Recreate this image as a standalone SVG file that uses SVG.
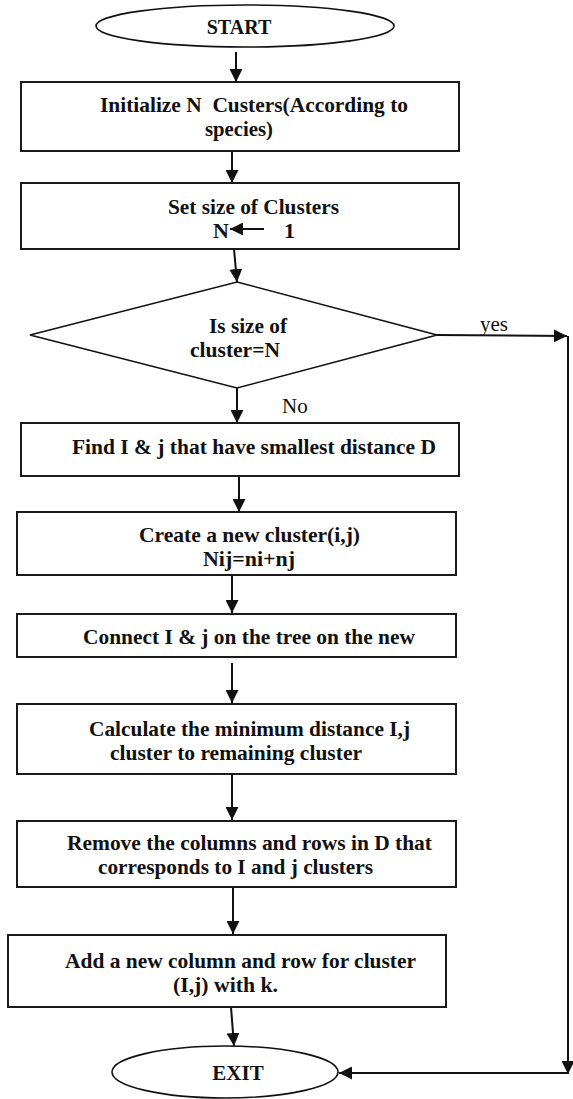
<svg xmlns="http://www.w3.org/2000/svg" width="573" height="1099" viewBox="0 0 573 1099">
<style>
.box{fill:#fff;stroke:#1a1a1a;stroke-width:2}
.shp{fill:#fff;stroke:#111;stroke-width:1.6}
.t{font-family:"Liberation Serif","Times New Roman",serif;font-weight:bold;font-size:22px;fill:#111}
.l{font-family:"Liberation Serif","Times New Roman",serif;font-size:21px;fill:#111}
.c{fill:none;stroke:#111;stroke-width:2}
</style>
<defs>
<marker id="ah" viewBox="0 0 10 10" refX="10" refY="5" markerWidth="13" markerHeight="13" markerUnits="userSpaceOnUse" orient="auto">
<path d="M0,0 L10,5 L0,10 z" fill="#111"/>
</marker>
</defs>
<rect width="573" height="1099" fill="#fff"/>
<g id="connectors">
<line class="c" x1="236" y1="52" x2="236" y2="82" marker-end="url(#ah)"/>
<line class="c" x1="232" y1="151" x2="232" y2="183" marker-end="url(#ah)"/>
<line class="c" x1="234" y1="249" x2="237" y2="282" marker-end="url(#ah)"/>
<line class="c" x1="437" y1="335" x2="567" y2="336" marker-end="url(#ah)"/>
<line class="c" x1="237" y1="388" x2="237" y2="423" marker-end="url(#ah)"/>
<line class="c" x1="239" y1="476" x2="239" y2="512" marker-end="url(#ah)"/>
<line class="c" x1="232" y1="575" x2="232" y2="613" marker-end="url(#ah)"/>
<line class="c" x1="232" y1="663" x2="232" y2="703" marker-end="url(#ah)"/>
<line class="c" x1="232" y1="774" x2="232" y2="820" marker-end="url(#ah)"/>
<line class="c" x1="233" y1="887" x2="233" y2="934" marker-end="url(#ah)"/>
<line class="c" x1="231" y1="1007" x2="234" y2="1046" marker-end="url(#ah)"/>
<line class="c" x1="568" y1="336" x2="568" y2="1074" marker-end="url(#ah)"/>
<line class="c" x1="569" y1="1073" x2="339" y2="1073" marker-end="url(#ah)"/>
</g>
<g id="start">
<ellipse class="shp" cx="245" cy="26" rx="149" ry="21"/>
<text class="t" x="239" y="34" text-anchor="middle" style="font-size:20px">START</text>
</g>
<g id="init">
<rect class="box" x="21" y="82" width="438" height="69"/>
<text class="t" x="100" y="112" textLength="308" lengthAdjust="spacingAndGlyphs" xml:space="preserve">Initialize N  Custers(According to</text>
<text class="t" x="205" y="136" textLength="68" lengthAdjust="spacingAndGlyphs">species)</text>
</g>
<g id="setsize">
<rect class="box" x="21" y="183" width="438" height="66"/>
<text class="t" x="168" y="214" textLength="171" lengthAdjust="spacingAndGlyphs">Set size of Clusters</text>
<text class="t" x="213" y="238">N</text>
<line class="c" x1="264" y1="229" x2="230" y2="229" marker-end="url(#ah)"/>
<text class="t" x="284" y="238">1</text>
</g>
<g id="decision">
<polygon class="shp" points="237,282 437,335 237,388 30,335"/>
<text class="t" x="209" y="333" textLength="78" lengthAdjust="spacingAndGlyphs">Is size of</text>
<text class="t" x="190" y="357" textLength="90" lengthAdjust="spacingAndGlyphs">cluster=N</text>
<text class="l" x="480" y="331">yes</text>
<text class="l" x="282" y="413">No</text>
</g>
<g id="find">
<rect class="box" x="21" y="423" width="438" height="53"/>
<text class="t" x="72" y="454" textLength="364" lengthAdjust="spacingAndGlyphs">Find I &amp; j that have smallest distance D</text>
</g>
<g id="create">
<rect class="box" x="17" y="512" width="439" height="63"/>
<text class="t" x="139" y="542" textLength="221" lengthAdjust="spacingAndGlyphs">Create a new cluster(i,j)</text>
<text class="t" x="203" y="566" textLength="92" lengthAdjust="spacingAndGlyphs">Nij=ni+nj</text>
</g>
<g id="connect">
<rect class="box" x="17" y="614" width="439" height="43"/>
<text class="t" x="83" y="644" textLength="332" lengthAdjust="spacingAndGlyphs">Connect I &amp; j on the tree on the new</text>
</g>
<g id="calculate">
<rect class="box" x="17" y="704" width="439" height="70"/>
<text class="t" x="89" y="736" textLength="321" lengthAdjust="spacingAndGlyphs">Calculate the minimum distance I,j</text>
<text class="t" x="110" y="760" textLength="252" lengthAdjust="spacingAndGlyphs">cluster to remaining cluster</text>
</g>
<g id="remove">
<rect class="box" x="17" y="821" width="439" height="66"/>
<text class="t" x="67" y="850" textLength="365" lengthAdjust="spacingAndGlyphs">Remove the columns and rows in D that</text>
<text class="t" x="98" y="874" textLength="275" lengthAdjust="spacingAndGlyphs">corresponds to I and j clusters</text>
</g>
<g id="add">
<rect class="box" x="8" y="935" width="438" height="72"/>
<text class="t" x="65" y="968" textLength="351" lengthAdjust="spacingAndGlyphs">Add a new column and row for cluster</text>
<text class="t" x="173" y="992" textLength="105" lengthAdjust="spacingAndGlyphs">(I,j) with k.</text>
</g>
<g id="exit">
<ellipse class="shp" cx="225" cy="1072" rx="113" ry="26"/>
<text class="t" x="238" y="1080" text-anchor="middle" style="font-size:21px">EXIT</text>
</g>
</svg>
